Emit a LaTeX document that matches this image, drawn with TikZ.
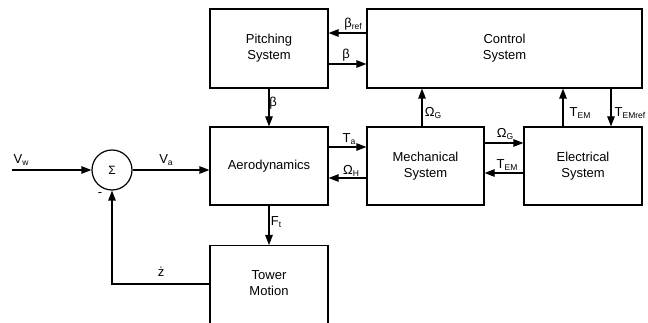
\documentclass[tikz,border=0pt]{standalone}
\usepackage{fontspec}
\setmainfont{Liberation Sans}
\usetikzlibrary{arrows.meta}
\newcommand{\lowidx}[1]{\raisebox{-2.2pt}{\fontsize{8.5}{9}\selectfont #1}}
\tikzset{
  box/.style={draw, line width=1.2pt, inner sep=0pt, align=center, font=\fontsize{13}{16}\selectfont},
  arr/.style={line width=1.2pt, -{Triangle[length=10pt,width=7.5pt]}},
  lbl/.style={inner sep=0pt, font=\fontsize{13}{16}\selectfont},
}
\begin{document}
\begin{tikzpicture}[x=1pt,y=-1pt]
\useasboundingbox (0,0) rectangle (648,323);
\clip (0,0) rectangle (648,323);
\node[box, minimum width=118pt, minimum height=79pt] (pitch) at (269,48.5) {Pitching\\System};
\node[box, minimum width=275pt, minimum height=79pt] (ctrl) at (504.5,48.5) {Control\\System};
\node[box, minimum width=118pt, minimum height=78pt] (aero) at (269,166) {Aerodynamics};
\node[box, minimum width=117pt, minimum height=78pt] (mech) at (425.5,166) {Mechanical\\System};
\node[box, minimum width=118pt, minimum height=78pt] (elec) at (583,166) {Electrical\\System};
\node[box, minimum width=118pt, minimum height=95pt, anchor=north] (tower) at (269,245) {};
\node[lbl, align=center] (towertext) at (269,283) {Tower\\Motion};
\node[draw, circle, line width=1.2pt, minimum size=40pt, inner sep=0pt, font=\fontsize{12}{14}\selectfont] (sum) at (112,170) {Σ};
\coordinate (vin) at (12,170);
% arrows
\draw[arr] (vin) -- (sum.west);
\draw[arr] (sum.east) -- (aero.west |- sum.east);
\draw[arr] (ctrl.west |- 0,33) -- (pitch.east |- 0,33);
\draw[arr] (pitch.east |- 0,64) -- (ctrl.west |- 0,64);
\draw[arr] (pitch.south) -- (aero.north);
\draw[arr] (aero.east |- 0,147) -- (mech.west |- 0,147);
\draw[arr] (mech.west |- 0,178) -- (aero.east |- 0,178);
\draw[arr] (mech.north -| 422,0) -- (ctrl.south -| 422,0);
\draw[arr] (mech.east |- 0,143) -- (elec.west |- 0,143);
\draw[arr] (elec.west |- 0,173) -- (mech.east |- 0,173);
\draw[arr] (elec.north -| 563,0) -- (ctrl.south -| 563,0);
\draw[arr] (ctrl.south -| 611,0) -- (elec.north -| 611,0);
\draw[arr] (aero.south) -- (tower.north);
\draw[arr] (tower.west |- 0,284) -| (sum.south);
% labels
\node[lbl] (lvw) at (21,160) {V\lowidx{w}};
\node[lbl] (lva) at (166,160) {V\lowidx{a}};
\node[lbl] (lbref) at (353,24) {β\lowidx{ref}};
\node[lbl] (lb1) at (346,55) {β};
\node[lbl] (lb2) at (273,103) {β};
\node[lbl] (lta) at (349,139) {T\lowidx{a}};
\node[lbl] (loh) at (351,171) {Ω\lowidx{H}};
\node[lbl] (log1) at (433,113) {Ω\lowidx{G}};
\node[lbl] (log2) at (505,134) {Ω\lowidx{G}};
\node[lbl] (ltem1) at (507,165) {T\lowidx{EM}};
\node[lbl] (ltem2) at (580,113) {T\lowidx{EM}};
\node[lbl] (ltemref) at (630,113) {T\lowidx{EMref}};
\node[lbl] (lft) at (276,222) {F\lowidx{t}};
\node[lbl] (lzd) at (161,272) {ż};
\node[lbl] (lminus) at (100,195) {-};
\end{tikzpicture}
\end{document}
